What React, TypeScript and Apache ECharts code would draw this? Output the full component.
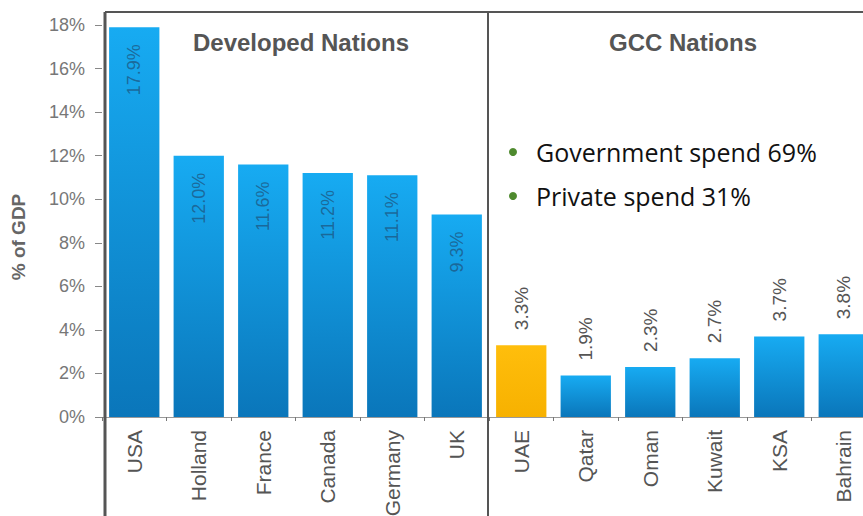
import React, { useEffect, useRef } from "react";
import * as echarts from "echarts";

const categories = ["USA", "Holland", "France", "Canada", "Germany", "UK", "UAE", "Qatar", "Oman", "Kuwait", "KSA", "Bahrain"];
const developedValues = [17.9, 12.0, 11.6, 11.2, 11.1, 9.3];
const gccValues = [3.3, 1.9, 2.3, 2.7, 3.7, 3.8];
const yTicks = [0, 2, 4, 6, 8, 10, 12, 14, 16, 18];
const groupTitles = ["Developed Nations", "GCC Nations"];
const bullets = ["Government spend 69%", "Private spend 31%"];
const highlight = "UAE";

const blueGrad = new echarts.graphic.LinearGradient(0, 0, 0, 1, [
  { offset: 0, color: "#17abf2" },
  { offset: 1, color: "#0a76ba" },
]);
const orangeGrad = new echarts.graphic.LinearGradient(0, 0, 0, 1, [
  { offset: 0, color: "#ffbe0c" },
  { offset: 1, color: "#f7b100" },
]);

export default function App() {
  const ref = useRef<HTMLDivElement>(null);
  useEffect(() => {
    const chart = echarts.init(ref.current!, null, { renderer: "svg" });
    const nDev = developedValues.length;
    const data = [
      ...developedValues.map((v, i) => ({
        value: v,
        itemStyle: { color: categories[i] === highlight ? orangeGrad : blueGrad },
        label: {
          show: true,
          position: "insideTop",
          rotate: 90,
          align: "right",
          verticalAlign: "middle",
          distance: 17,
          color: "rgba(30,80,120,0.7)",
          fontSize: 18,
          fontFamily: "Liberation Sans",
        },
      })),
      ...gccValues.map((v, i) => ({
        value: v,
        itemStyle: { color: categories[nDev + i] === highlight ? orangeGrad : blueGrad },
        label: {
          show: true,
          position: "top",
          rotate: 90,
          align: "left",
          verticalAlign: "middle",
          distance: 15,
          color: "#555",
          fontSize: 19,
          fontFamily: "Liberation Sans",
        },
      })),
    ];
    const left = 102;
    const right = -13;
    const top = 25;
    const bottom = 99;
    const W = 863;
    const catW = (W - left - right) / categories.length;
    const dividerX = left + catW * nDev - 1;
    chart.setOption({
      animation: false,
      grid: { left, right, top, bottom, containLabel: false, outerBoundsMode: "none" },
      xAxis: {
        type: "category",
        data: categories,
        axisLine: { lineStyle: { color: "#999", width: 1 } },
        axisTick: { show: true, length: 4, lineStyle: { color: "#777" } },
        axisLabel: {
          rotate: 90,
          margin: 13,
          color: "#555",
          fontSize: 21,
          fontFamily: "Liberation Sans",
        },
      },
      yAxis: {
        type: "value",
        min: 0,
        max: 18,
        interval: 2,
        splitLine: { show: false },
        axisLine: { show: false },
        axisTick: { show: true, length: 7, lineStyle: { color: "#888" } },
        axisLabel: {
          formatter: (v: number) => (yTicks.includes(v) ? v + "%" : ""),
          color: "#777",
          fontSize: 18,
          margin: 17,
          fontFamily: "Liberation Sans",
        },
      },
      series: [
        {
          type: "bar",
          data,
          barCategoryGap: "22%",
          label: {
            formatter: (p: any) => Number(p.value).toFixed(1) + "%",
          },
        },
      ],
      graphic: [
        { type: "line", shape: { x1: 105, y1: 12, x2: W, y2: 12 }, style: { stroke: "#555", lineWidth: 2 }, z: 10 },
        { type: "line", shape: { x1: 105, y1: 12, x2: 105, y2: 516 }, style: { stroke: "#555", lineWidth: 3 }, z: 10 },
        { type: "line", shape: { x1: dividerX, y1: 12, x2: dividerX, y2: 516 }, style: { stroke: "#555", lineWidth: 2 }, z: 10 },
        {
          type: "text",
          x: 301,
          y: 42,
          style: { text: groupTitles[0], font: "bold 24px Liberation Sans", fill: "#555", align: "center", verticalAlign: "middle" },
        },
        {
          type: "text",
          x: 683,
          y: 42,
          style: { text: groupTitles[1], font: "bold 24px Liberation Sans", fill: "#555", align: "center", verticalAlign: "middle" },
        },
        ...bullets.flatMap((b, i) => [
          { type: "circle", shape: { cx: 513, cy: 152 + i * 44, r: 4 }, style: { fill: "#4e8a2e" } },
          {
            type: "text",
            x: 536,
            y: 152 + i * 44,
            style: { text: b, font: "25px Open Sans", fill: "#111", align: "left", verticalAlign: "middle" },
          },
        ]),
        {
          type: "text",
          x: 18,
          y: 237,
          rotation: Math.PI / 2,
          style: { text: "% of GDP", font: "bold 19px Liberation Sans", fill: "#666", align: "center", verticalAlign: "middle" },
        },
      ],
    });
    return () => chart.dispose();
  }, []);
  return <div ref={ref} style={{ position: "absolute", left: 0, top: 0, width: 863, height: 516, background: "#fff" }} />;
}
